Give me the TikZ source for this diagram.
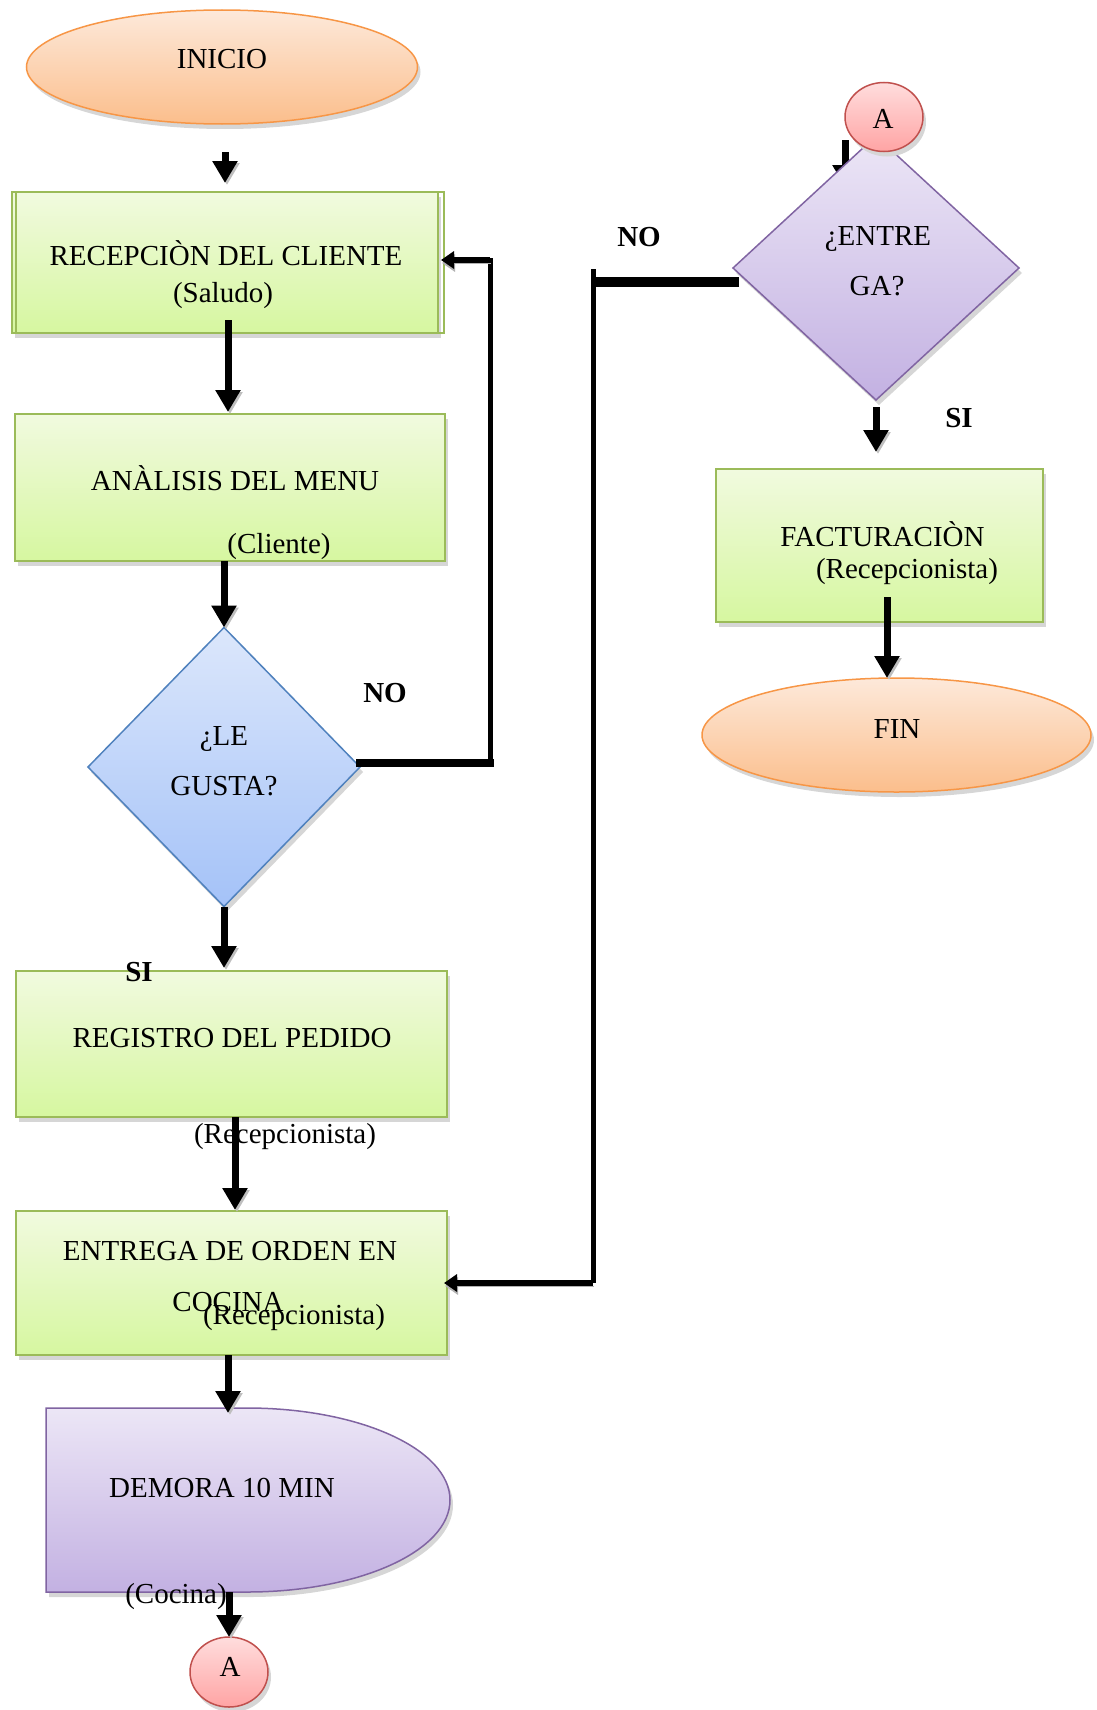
\documentclass[tikz,border=0pt]{standalone}
\usepackage{fontspec}
\setmainfont{Liberation Serif}
\usetikzlibrary{shapes.geometric,shadows,arrows.meta,calc}

\definecolor{grnTop}{HTML}{F1FADF}
\definecolor{grnBot}{HTML}{D6F7A0}
\definecolor{grnLine}{HTML}{9BBB59}
\definecolor{orgTop}{HTML}{FDE9DA}
\definecolor{orgBot}{HTML}{FBBE8C}
\definecolor{orgLine}{HTML}{F79646}
\definecolor{bluTop}{HTML}{DCE7FB}
\definecolor{bluBot}{HTML}{A4C2F8}
\definecolor{bluLine}{HTML}{4F81BD}
\definecolor{purTop}{HTML}{ECE6F6}
\definecolor{purBot}{HTML}{C3B1E2}
\definecolor{purLine}{HTML}{8064A2}
\definecolor{redTop}{HTML}{FFDDDD}
\definecolor{redBot}{HTML}{FFA4A4}
\definecolor{redLine}{HTML}{C0504D}

\tikzset{
  castshadow/.style={drop shadow={shadow xshift=3pt, shadow yshift=-5pt, fill=black!16, opacity=1}},
  base shape/.style={inner sep=0pt, outer sep=0pt, line width=1.5pt, castshadow},
  greenbox/.style={base shape, rectangle, draw=grnLine, top color=grnTop, bottom color=grnBot},
  terminal/.style={base shape, ellipse, draw=orgLine, top color=orgTop, bottom color=orgBot},
  bluedec/.style={base shape, diamond, draw=bluLine, top color=bluTop, bottom color=bluBot},
  purpledec/.style={base shape, diamond, draw=purLine, top color=purTop, bottom color=purBot},
  connector/.style={base shape, ellipse, draw=redLine, top color=redTop, bottom color=redBot},
  txt/.style={inner sep=0pt, anchor=base, font=\fontsize{29}{35}\selectfont},
  lbl/.style={inner sep=0pt, anchor=base, font=\fontsize{29}{35}\selectfont\bfseries},
  arr/.style={line width=7pt, -{Triangle[width=24pt,length=22pt]},
    preaction={draw=black!25, transform canvas={shift={(2pt,-2pt)}}}},
  loopline/.style={line cap=rect},
  looparr/.style={line width=6pt, -{Triangle[width=17pt,length=13pt]},
    preaction={draw=black!30, transform canvas={shift={(1pt,-3pt)}}}},
}

\begin{document}
\begin{tikzpicture}[x=1pt,y=-1pt]
\useasboundingbox (0,0) rectangle (1097,1710);

% ---------- left column ----------
\node[terminal, minimum width=391pt, minimum height=114pt] (inicio) at (222,67) {};
\node[greenbox, minimum width=426pt, minimum height=141pt] (recep) at (225,262.5) {};
\draw[draw=grnLine, line width=1.5pt] ($(recep.south west)+(4,0)$) rectangle ($(recep.north east)+(6,0)$);
\node[greenbox, minimum width=430pt, minimum height=147pt] (analisis) at (230,487.5) {};
\node[bluedec, minimum width=272pt, minimum height=279pt] (gusta) at (224,767) {};
\node[greenbox, minimum width=431pt, minimum height=146pt] (registro) at (231.5,1044) {};
\node[greenbox, minimum width=431pt, minimum height=144pt] (entrega) at (231.5,1283) {};

% delay shape: flat left side, half ellipse on the right
\node[inner sep=0pt, outer sep=0pt, minimum width=404pt, minimum height=184pt] (demora) at (248,1500) {};
\path[castshadow, draw=purLine, line width=1.5pt, top color=purTop, bottom color=purBot]
  (demora.north west) -- (247,1408)
  .. controls (359,1408) and (450,1449) .. (450,1500)
  .. controls (450,1551) and (359,1592) .. (247,1592)
  -- (demora.south west) -- cycle;

\node[connector, minimum width=78pt, minimum height=70pt] (conA) at (229,1672) {};

% ---------- right column ----------
\coordinate (stubtop) at (845,140);
\draw[arr] (stubtop) -- (845,187);
\node[purpledec, minimum width=286pt, minimum height=264pt] (entregaQ) at (876,268) {};
\node[connector, minimum width=78pt, minimum height=69pt] (conB) at (884,117) {};
\node[greenbox, minimum width=327pt, minimum height=153pt] (factura) at (879.5,545.5) {};
\node[terminal, minimum width=389pt, minimum height=114pt] (fin) at (896.5,735) {};

% ---------- texts ----------
\node[txt] (tInicio) at (222,69) {INICIO};
\node[txt] (tRecep) at (226,265) {RECEPCIÒN DEL CLIENTE};
\node[txt] (tSaludo) at (223,302) {(Saludo)};
\node[txt] (tAnalisis) at (235,490) {ANÀLISIS DEL MENU};
\node[txt] (tCliente) at (279,553) {(Cliente)};
\node[txt] (tLe) at (224,745) {¿LE};
\node[txt] (tGusta) at (224,795) {GUSTA?};
\node[lbl] (tNoL) at (385,702) {NO};
\node[lbl] (tSiL) at (139,981) {SI};
\node[txt] (tRegistro) at (232,1047) {REGISTRO DEL PEDIDO};
\node[txt] (tRecepA) at (285,1143) {(Recepcionista)};
\node[txt] (tEntrega) at (230,1260) {ENTREGA DE ORDEN EN};
\node[txt] (tCocinaA) at (228,1311) {COCINA};
\node[txt] (tRecepB) at (294,1324) {(Recepcionista)};
\node[txt] (tDemora) at (222,1497) {DEMORA 10 MIN};
\node[txt] (tCocinaB) at (176,1603) {(Cocina)};
\node[txt] (tA1) at (230,1676) {A};
\node[txt] (tA2) at (883,128) {A};
\node[txt] (tEntre) at (878,245) {¿ENTRE};
\node[txt] (tGa) at (877,295) {GA?};
\node[lbl] (tNoR) at (639,246) {NO};
\node[lbl] (tSiR) at (959,427) {SI};
\node[txt] (tFactura) at (882.5,546) {FACTURACIÒN};
\node[txt] (tRecepC) at (907,578) {(Recepcionista)};
\node[txt] (tFin) at (897,738) {FIN};

% ---------- main flow ----------
\draw[arr] ($(inicio.south)+(3,28)$) -- ($(recep.north)+(0,-9)$);
\draw[arr] ($(recep.south)+(3,-13)$) -- ($(analisis.north)+(-2,-2)$);
\draw[arr] ($(analisis.south)+(-6,0)$) -- (gusta.north);
\draw[arr] (gusta.south) -- ($(registro.north)+(-7.5,-3)$);
\draw[arr] ($(registro.south)+(3.5,0)$) -- ($(entrega.north)+(3.5,-1)$);
\draw[arr] ($(entrega.south)+(-3.5,0)$) -- ($(demora.north)+(-20,5)$);
\draw[arr] ($(demora.south)+(-19,0)$) -- (conA.north);
\draw[arr] ($(entregaQ.south)+(0,7)$) -- ($(factura.north)+(-3.5,-17)$);
\draw[arr] ($(factura.south)+(7.5,-25)$) -- ($(fin.north)+(-9.5,0)$);

% ---------- NO branch of the first decision ----------
\coordinate (fbA) at (490,763);
\coordinate (fbB) at (490,260);
\draw[loopline, line width=8pt] ($(gusta.east)+(0,-4)$) -- (fbA);
\draw[loopline, line width=5pt] (fbA) -- (fbB);
\draw[looparr] (fbB) -- ($(recep.east |- fbB)+(3,0)$);

% ---------- NO branch of the second decision ----------
\coordinate (ngA) at (596,282);
\coordinate (ngB) at (593,269);
\coordinate (ngC) at (593,1283);
\draw[line width=10pt] ($(entregaQ.west)+(6,14)$) -- (ngA);
\draw[line width=5pt] (ngB) -- (ngC);
\draw[looparr] (ngC) -- ($(entrega.east)+(-3,0)$);
\end{tikzpicture}
\end{document}
